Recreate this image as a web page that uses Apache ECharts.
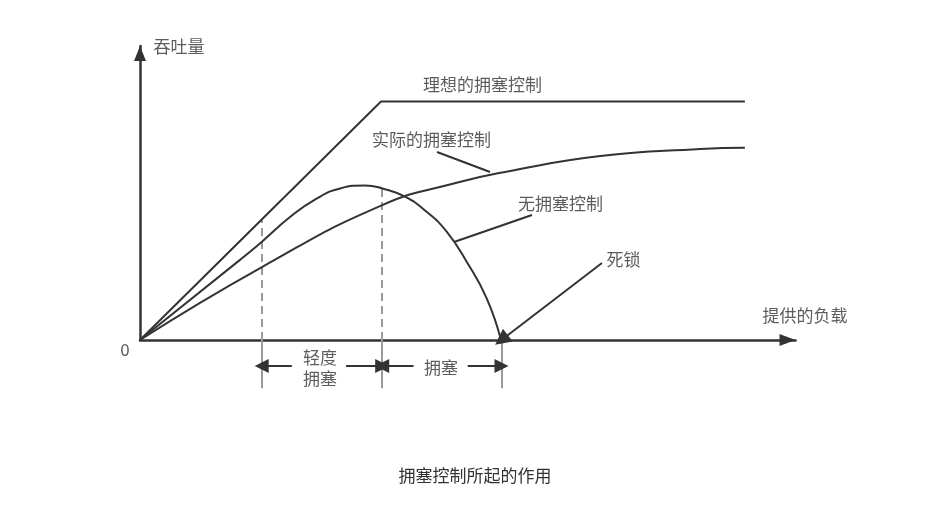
<!DOCTYPE html>
<html>
<head>
<meta charset="utf-8">
<script src="https://cdn.jsdelivr.net/npm/echarts@6/dist/echarts.min.js"></script>
<style>
  html, body { margin: 0; padding: 0; background: #fff; }
  #chart { width: 950px; height: 519px; }
</style>
</head>
<body>
<div id="chart"></div>
<script>
// load units on x, throughput units on y (1 unit ~ one dashed-line spacing)
const idealCurve = [[0, 0], [2.0, 1.98], [5.02, 1.98]];
const actualCurve = [[0, 0], [1.012, 0.605], [2.011, 1.12], [2.628, 1.305],
  [3.04, 1.397], [3.82, 1.527], [4.65, 1.585], [5.02, 1.596]];
const noControlCurve = [[0, 0], [0.83, 0.665], [1.012, 0.816], [1.245, 1.021],
  [1.452, 1.165], [1.66, 1.258], [1.867, 1.283], [2.011, 1.258], [2.199, 1.189],
  [2.379, 1.064], [2.545, 0.899], [2.711, 0.65], [2.877, 0.346], [2.996, 0]];

const dashedMarks = [
  [[1.01, 0], [1.01, 1.0]],
  [[2.01, 0], [2.01, 1.26]]
];
const belowAxisMarks = [
  [[1.01, 0], [1.01, -0.4]],
  [[2.01, 0], [2.01, -0.4]],
  [[3.0, 0], [3.0, -0.4]]
];
const spanArrows = [
  [[1.26, -0.216], [1.01, -0.216]],
  [[1.71, -0.216], [2.01, -0.216]],
  [[2.27, -0.216], [2.01, -0.216]],
  [[2.72, -0.216], [3.0, -0.216]]
];
const leaderLines = [
  [[2.465, 1.56], [2.905, 1.394]],
  [[3.253, 1.037], [2.606, 0.813]]
];
const deadlockArrow = [[3.834, 0.639], [3.0, 0]];

const labelTexts = ['吞吐量', '理想的拥塞控制', '实际的拥塞控制', '无拥塞控制', '死锁', '提供的负载', '0', '轻度\n拥塞', '拥塞'];
const labelAnchors = [[0.324, 2.432], [2.842, 2.124], [2.419, 1.66], [3.49, 1.129], [4.012, 0.664],
  [5.519, 0.207], [-0.124, -0.083], [1.494, -0.232], [2.498, -0.232]];

const chart = echarts.init(document.getElementById('chart'));
const font = '"Noto Sans CJK SC", "Noto Sans", sans-serif';
const ink = '#333';
const gray = '#9a9a9a';

function segs(list) {
  return list.map(c => ({ coords: c }));
}

chart.setOption({
  animation: false,
  title: {
    text: '拥塞控制所起的作用',
    left: 'center',
    top: 462,
    textStyle: { fontFamily: font, fontSize: 17, fontWeight: 'normal', color: ink }
  },
  grid: { left: 140, top: 46, width: 655.5, height: 294 },
  xAxis: {
    type: 'value', min: 0, max: 5.44,
    axisLine: {
      show: true, symbol: ['none', 'triangle'], symbolSize: [12, 16], symbolOffset: [0, -8],
      lineStyle: { color: ink, width: 2.5 }
    },
    axisTick: { show: false }, axisLabel: { show: false }, splitLine: { show: false }
  },
  yAxis: {
    type: 'value', min: 0, max: 2.44,
    axisLine: {
      show: true, symbol: ['none', 'triangle'], symbolSize: [12, 15], symbolOffset: [0, -7.5],
      lineStyle: { color: ink, width: 2.5 }
    },
    axisTick: { show: false }, axisLabel: { show: false }, splitLine: { show: false }
  },
  series: [
    {
      name: '理想的拥塞控制', type: 'line', data: idealCurve, showSymbol: false,
      lineStyle: { color: ink, width: 2 }, clip: false
    },
    {
      name: '实际的拥塞控制', type: 'line', data: actualCurve, smooth: 0.5,
      showSymbol: false, lineStyle: { color: ink, width: 2 }, clip: false
    },
    {
      name: '无拥塞控制', type: 'line', data: noControlCurve, smooth: 0.5,
      showSymbol: false, lineStyle: { color: ink, width: 2 }, clip: false
    },
    {
      type: 'lines', coordinateSystem: 'cartesian2d', clip: false, symbol: 'none',
      lineStyle: { color: gray, width: 2, type: [8, 5], opacity: 1 },
      data: segs(dashedMarks)
    },
    {
      type: 'lines', coordinateSystem: 'cartesian2d', clip: false, symbol: 'none',
      lineStyle: { color: gray, width: 2, opacity: 1 },
      data: segs(belowAxisMarks)
    },
    {
      type: 'lines', coordinateSystem: 'cartesian2d', clip: false,
      symbol: ['none', 'triangle'], symbolSize: [10, 14], symbolOffset: [0, -7],
      lineStyle: { color: ink, width: 2, opacity: 1 },
      data: segs(spanArrows)
    },
    {
      type: 'lines', coordinateSystem: 'cartesian2d', clip: false, symbol: 'none',
      lineStyle: { color: ink, width: 2, opacity: 1 },
      data: segs(leaderLines)
    },
    {
      type: 'lines', coordinateSystem: 'cartesian2d', clip: false,
      symbol: ['none', 'triangle'], symbolSize: [12, 16], symbolOffset: [0, -8],
      lineStyle: { color: ink, width: 2, opacity: 1 },
      data: segs([deadlockArrow])
    },
    {
      type: 'scatter', clip: false, symbolSize: 1, silent: true,
      itemStyle: { color: 'rgba(0,0,0,0)' },
      label: {
        show: true, position: 'inside', formatter: p => p.name,
        fontFamily: font, fontSize: 17, color: ink, lineHeight: 21, align: 'center'
      },
      data: labelTexts.map((t, i) => ({ name: t, value: labelAnchors[i] }))
    }
  ]
});
</script>
</body>
</html>
